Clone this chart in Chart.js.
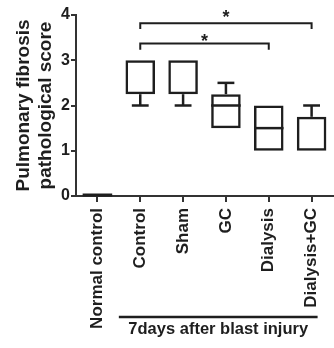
<!DOCTYPE html>
<html>
<head>
<meta charset="utf-8">
<script src="https://cdn.jsdelivr.net/npm/chart.js@4.4.1/dist/chart.umd.min.js"></script>
<style>
  html, body { margin: 0; padding: 0; background: #fff; overflow: hidden; }
  #wrap { width: 334px; height: 348px; overflow: hidden; }
</style>
</head>
<body>
<div id="wrap"><canvas id="boxChart" width="338" height="348"></canvas></div>
<script>
// ── Data ──
const GROUPS = ['Normal control', 'Control', 'Sham', 'GC', 'Dialysis', 'Dialysis+GC'];
const Q1     = [0, 2.25, 2.25, 1.5,  1,   1];
const Q3     = [0, 3,    3,    2.25, 2,   1.75];
const MEDIAN = [0, 3,    3,    2,    1.5, 1];
const W_MIN  = [0, 2,    2,    1.5,  1,   1];
const W_MAX  = [0, 3,    3,    2.5,  2,   2];
const Y_TICKS = [0, 1, 2, 3, 4];

// significance brackets (group index from/to, bar level, leg end, star level)
const SIG_FROM = [1, 1];
const SIG_TO   = [5, 4];
const SIG_BAR  = [3.82, 3.37];
const SIG_LEG  = [3.69, 3.23];
const SIG_STAR = [4.04, 3.51];

// group underline spans between these category positions
const GROUP_SPAN  = [0.5, 5.14];
const GROUP_LABEL = '7days after blast injury';

const INK = '#1e1e1e';
const FONT = 'Liberation Sans, Arial, sans-serif';
const BAR_PCT = 0.69;

// boxes as floating bars, normal control is flat so only its median line is drawn
const boxData = Q1.map((q, i) => (q === Q3[i] ? null : [q, Q3[i]]));

// ── whiskers + medians ──
const boxExtras = {
  id: 'boxExtras',
  afterDatasetsDraw(chart) {
    const { ctx, scales: { x, y } } = chart;
    const boxW = (x.getPixelForValue(1) - x.getPixelForValue(0)) * BAR_PCT;
    const capW = boxW * 0.57;
    ctx.save();
    ctx.strokeStyle = INK;
    ctx.lineWidth = 2.5;
    ctx.lineCap = 'butt';
    GROUPS.forEach((g, i) => {
      const cx = x.getPixelForValue(i);
      const seg = (x1, y1, x2, y2) => {
        ctx.beginPath(); ctx.moveTo(x1, y1); ctx.lineTo(x2, y2); ctx.stroke();
      };
      // median (skip when it sits on the box edge)
      const flat = Q1[i] === Q3[i];
      if (flat || (MEDIAN[i] !== Q1[i] && MEDIAN[i] !== Q3[i])) {
        const ym = y.getPixelForValue(MEDIAN[i]) - (flat ? 1 : 0);
        ctx.lineWidth = flat ? 3 : 2.5;
        seg(cx - boxW / 2, ym, cx + boxW / 2, ym);
        ctx.lineWidth = 2.5;
      }
      if (W_MAX[i] > Q3[i]) {
        const yt = y.getPixelForValue(W_MAX[i]);
        seg(cx, y.getPixelForValue(Q3[i]), cx, yt);
        seg(cx - capW / 2, yt, cx + capW / 2, yt);
      }
      if (W_MIN[i] < Q1[i]) {
        const yb = y.getPixelForValue(W_MIN[i]);
        seg(cx, y.getPixelForValue(Q1[i]), cx, yb);
        seg(cx - capW / 2, yb, cx + capW / 2, yb);
      }
    });
    ctx.restore();
  },
  afterDraw(chart) {
    const { ctx, scales: { x, y } } = chart;
    ctx.save();
    ctx.strokeStyle = INK;
    ctx.fillStyle = INK;
    ctx.lineWidth = 2;
    // significance brackets
    SIG_FROM.forEach((f, k) => {
      const x1 = x.getPixelForValue(f);
      const x2 = x.getPixelForValue(SIG_TO[k]);
      const yb = y.getPixelForValue(SIG_BAR[k]);
      const yl = y.getPixelForValue(SIG_LEG[k]);
      ctx.beginPath();
      ctx.moveTo(x1, yl); ctx.lineTo(x1, yb); ctx.lineTo(x2, yb); ctx.lineTo(x2, yl);
      ctx.stroke();
      ctx.font = `bold 18px ${FONT}`;
      ctx.textAlign = 'center';
      ctx.textBaseline = 'alphabetic';
      ctx.fillText('*', (x1 + x2) / 2, y.getPixelForValue(SIG_STAR[k]) + 10);
    });
    // group underline + caption
    const gx1 = x.getPixelForValue(GROUP_SPAN[0]);
    const gx2 = x.getPixelForValue(GROUP_SPAN[1]);
    const gy = 317;
    ctx.lineWidth = 2.5;
    ctx.beginPath(); ctx.moveTo(gx1, gy); ctx.lineTo(gx2, gy); ctx.stroke();
    ctx.font = `bold 16.5px ${FONT}`;
    ctx.textAlign = 'center';
    ctx.textBaseline = 'middle';
    ctx.fillText(GROUP_LABEL, (gx1 + gx2) / 2, gy + 12);
    ctx.restore();
  }
};

new Chart(document.getElementById('boxChart'), {
  type: 'bar',
  data: {
    labels: GROUPS,
    datasets: [{
      data: boxData,
      backgroundColor: 'rgba(255,255,255,0)',
      borderColor: INK,
      borderWidth: 2.5,
      borderSkipped: false,
      barPercentage: BAR_PCT,
      categoryPercentage: 1,
    }]
  },
  options: {
    responsive: false,
    animation: false,
    devicePixelRatio: 1,
    layout: { padding: { top: 15, left: 0, right: 0, bottom: 0 } },
    plugins: {
      legend: { display: false },
      tooltip: { enabled: false }
    },
    scales: {
      x: {
        afterFit: s => { s.height = 152; },
        border: { display: true, width: 2, color: '#333' },
        grid: { offset: false, drawOnChartArea: false, drawTicks: true, tickLength: 6, color: '#333', lineWidth: 2 },
        ticks: {
          color: INK, autoSkip: false, maxRotation: 90, minRotation: 90, padding: 6,
          font: { family: FONT, size: 17, weight: 'bold' }
        }
      },
      y: {
        min: 0, max: 4,
        afterFit: s => { s.width = 76; },
        afterBuildTicks: s => { s.ticks = Y_TICKS.map(v => ({ value: v })); },
        border: { display: true, width: 2, color: '#333' },
        grid: { drawOnChartArea: false, drawTicks: true, tickLength: 5, color: '#333', lineWidth: 2 },
        ticks: {
          color: INK, padding: 1,
          font: { family: FONT, size: 16, weight: 'bold' }
        },
        title: {
          display: true,
          text: ['Pulmonary fibrosis', 'pathological score'],
          color: INK,
          font: { family: FONT, size: 19, weight: 'bold', lineHeight: 1.2 },
          padding: { top: 12, bottom: 0 }
        }
      }
    }
  },
  plugins: [boxExtras]
});
</script>
</body>
</html>
